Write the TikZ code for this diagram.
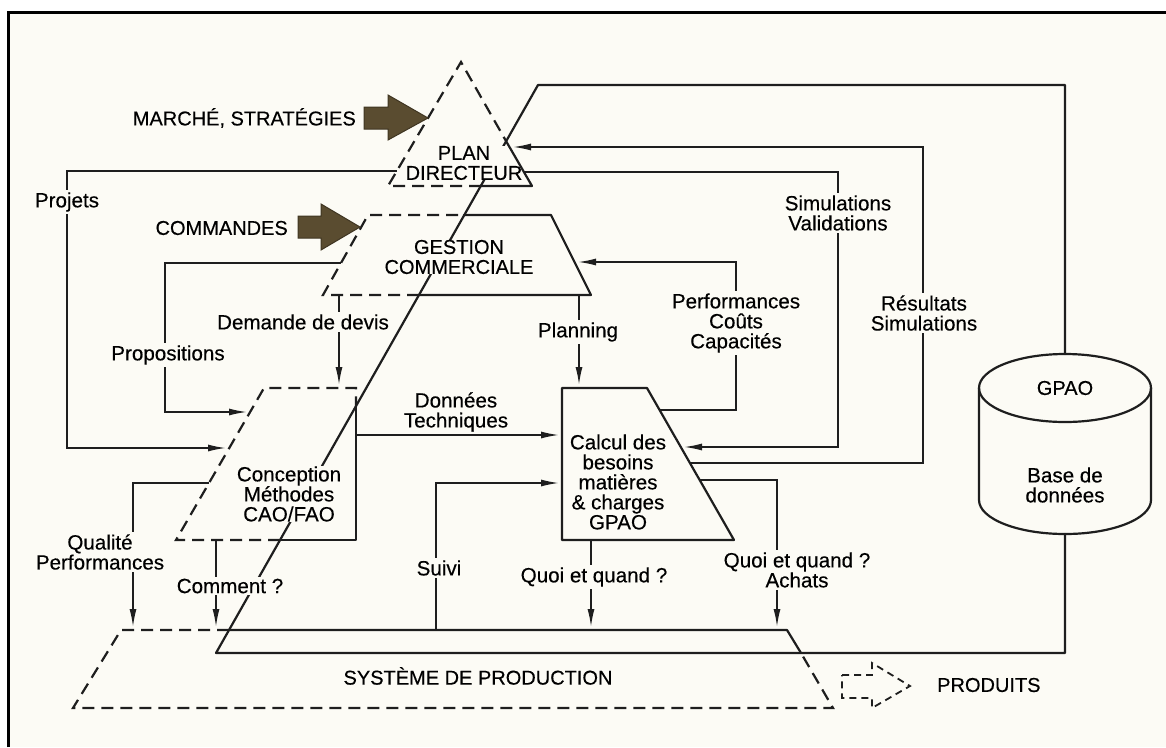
\documentclass[tikz,border=0pt]{standalone}
\usepackage{fontspec}
\setmainfont{Liberation Sans}[FakeBold=0.35]
\usetikzlibrary{arrows.meta}
\definecolor{bg}{RGB}{252,251,245}
\definecolor{ink}{RGB}{30,30,30}
\definecolor{olive}{RGB}{90,76,48}
\begin{document}
\begin{tikzpicture}[x=1pt,y=-1pt,
  shp/.style={draw=ink,line width=2.2pt,line join=round,line cap=round},
  hid/.style={draw=ink,line width=2.2pt,dash pattern=on 12pt off 7pt},
  con/.style={draw=ink,line width=1.6pt},
  arr/.style={con,-{Latex[length=18pt,width=7pt]},shorten >=3pt},
  fnt/.style={font=\fontsize{20}{20}\selectfont},
  lfnt/.style={font=\fontsize{20.6}{20}\selectfont},
  boxtxt/.style={lfnt,align=center,inner sep=0pt,fill=bg},
  lab/.style={lfnt,align=center,inner sep=2pt,fill=bg},
  free/.style={fnt,align=center,inner sep=0pt},
  fat/.style={fill=olive,draw=olive!70!black,line width=1pt,line join=miter}
]
\useasboundingbox (0,0) rectangle (1166,747);
\fill[white] (0,0) rectangle (1166,747);
\fill[bg] (8,12) rectangle (1166,747);
\draw[black,line width=3pt] (8,747) -- (8,12) -- (1166,12);

% ---------- key points ----------
% Plan directeur (triangle)
\coordinate (pdA) at (461,62);
\coordinate (pdL) at (388,186);
\coordinate (pdR) at (532,186);
\coordinate (pdX1) at (506,141);
\coordinate (pdX2) at (481,186);
% Gestion commerciale
\coordinate (gcTL) at (368,215);
\coordinate (gcTR) at (551,215);
\coordinate (gcBR) at (591,295);
\coordinate (gcBL) at (323,295);
\coordinate (gcX1) at (464,215);
\coordinate (gcX2) at (419,295);
% Conception
\coordinate (coTL) at (264,388);
\coordinate (coTR) at (356,388);
\coordinate (coBR) at (356,540);
\coordinate (coBL) at (176,540);
\coordinate (coX1) at (356,406);
\coordinate (coX2) at (280,540);
% Calcul
\coordinate (caTL) at (562,388);
\coordinate (caTR) at (647,388);
\coordinate (caBR) at (734,540);
\coordinate (caBL) at (562,540);
% Systeme de production
\coordinate (spTL) at (121,630);
\coordinate (spTR) at (787,630);
\coordinate (spBR) at (833,708);
\coordinate (spBL) at (73,708);
\coordinate (spX1) at (229,630);
\coordinate (spX2) at (801,653);
% GPAO band
\coordinate (bdT) at (538,85);
\coordinate (bdB) at (216,653);
\coordinate (dbTop) at (1065,354);
\coordinate (dbBot) at (1065,534);

% ---------- GPAO band and database ----------
\draw[shp] (dbTop) |- (bdT) -- (bdB) -| (dbBot);
\draw[shp] (1065,388) ellipse [x radius=86pt, y radius=34pt];
\draw[shp] (979,388) -- (979,500) arc[start angle=180, end angle=360, x radius=86pt, y radius=34pt] -- (1151,388);
\node[free] (dbTxt) at (1065,388) {GPAO};
\node[free,lfnt] (dbTxt2) at (1065,485) {Base de\\données};

% ---------- box texts ----------
\node[boxtxt,fnt] (pdTxt) at (464,163) {PLAN\\DIRECTEUR};
\node[boxtxt,fnt] (gcTxt) at (459,257) {GESTION\\COMMERCIALE};
\node[boxtxt] (coTxt) at (289,494) {Conception\\Méthodes\\CAO/FAO};
\node[boxtxt] (caTxt) at (618,482) {Calcul des\\besoins\\matières\\\& charges\\GPAO};
\node[free] (spTxt) at (478,676) {SYSTÈME DE PRODUCTION};

% ---------- shapes ----------
\draw[hid] (pdX2) -- (pdL) -- (pdA) -- (pdX1);
\draw[shp] (pdX1) -- (pdR) -- (pdX2);
\draw[hid] (gcX2) -- (gcBL) -- (gcTL) -- (gcX1);
\draw[shp] (gcX1) -- (gcTR) -- (gcBR) -- (gcX2);
\draw[hid] (coX2) -- (coBL) -- (coTL) -- (coTR) -- (coX1);
\draw[shp] (coX1) -- (coBR) -- (coX2);
\draw[shp] (caTL) -- (caTR) -- (caBR) -- (caBL) -- cycle;
\draw[hid] (spX1) -- (spTL) -- (spBL) -- (spBR) -- (spX2);
\draw[shp] (spX1) -- (spTR) -- (spX2);

% ---------- input / output arrows ----------
\coordinate (mkTip) at (428,118);
\coordinate (cmdTip) at (360,227);
\draw[fat] (364,107) -- (388,107) -- (388,95) -- (mkTip) -- (388,140) -- (388,129) -- (364,129) -- cycle;
\draw[fat] (298,216) -- (321,216) -- (321,204) -- (cmdTip) -- (321,250) -- (321,238) -- (298,238) -- cycle;
\node[free,anchor=east] (mkTxt) at (356,118) {MARCHÉ, STRATÉGIES};
\node[free,anchor=east] (cmdTxt) at (288,228) {COMMANDES};
\coordinate (prodTip) at (910,686);
\draw[draw=ink,line width=1.8pt,dash pattern=on 7pt off 5pt] (842,675) -- (872,675) -- (872,663) -- (prodTip) -- (872,708) -- (872,698) -- (842,698) -- cycle;
\node[free,anchor=west] (prodTxt) at (937,685) {PRODUITS};

% ---------- connectors ----------
\coordinate (pj1) at (397,171);  \coordinate (pjK) at (67,171);  \coordinate (pj2) at (229,448);
\draw[arr] (pj1) -- (pjK) |- (pj2);
\coordinate (pp1) at (341,263);  \coordinate (ppK) at (165,263); \coordinate (pp2) at (250,412);
\draw[arr] (pp1) -- (ppK) |- (pp2);
\coordinate (dd1) at (339,295);  \coordinate (dd2) at (339,388);
\draw[arr] (dd1) -- (dd2);
\coordinate (pl1) at (579,295);  \coordinate (pl2) at (579,388);
\draw[arr] (pl1) -- (pl2);
\coordinate (dt1) at (356,435);  \coordinate (dt2) at (562,435);
\draw[arr] (dt1) -- (dt2);
\coordinate (pf1) at (660,410);  \coordinate (pfK) at (736,410); \coordinate (pf2) at (575,262);
\draw[arr] (pf1) -- (pfK) |- (pf2);
\coordinate (sv1) at (524,172);  \coordinate (svK) at (838,172); \coordinate (sv2) at (681,447);
\draw[arr] (sv1) -- (svK) |- (sv2);
\coordinate (rs1) at (690,463);  \coordinate (rsK) at (923,463); \coordinate (rs2) at (510,147);
\draw[arr] (rs1) -- (rsK) |- (rs2);
\coordinate (qp1) at (209,483);  \coordinate (qp2) at (133,630);
\draw[arr] (qp1) -| (qp2);
\coordinate (cm1) at (216,540);  \coordinate (cm2) at (216,630);
\draw[arr] (cm1) -- (cm2);
\coordinate (su1) at (436,630);  \coordinate (su2) at (562,483);
\draw[arr] (su1) |- (su2);
\coordinate (qq1) at (591,540);  \coordinate (qq2) at (591,630);
\draw[arr] (qq1) -- (qq2);
\coordinate (ac1) at (700,480);  \coordinate (ac2) at (777,630);
\draw[arr] (ac1) -| (ac2);

% ---------- connector labels ----------
\node[lab] (pjTxt) at (67,202) {Projets};
\node[lab] (ppTxt) at (168,355) {Propositions};
\node[lab] (ddTxt) at (303,322) {Demande de devis};
\node[lab] (plTxt) at (578,332) {Planning};
\node[free,lfnt] (dtTxt) at (456,412) {Données\\Techniques};
\node[lab] (pfTxt) at (736,323) {Performances\\Coûts\\Capacités};
\node[lab] (svTxt) at (838,213) {Simulations\\Validations};
\node[lab] (rsTxt) at (924,313) {Résultats\\Simulations};
\node[lab] (qpTxt) at (100,552) {Qualité\\Performances};
\node[lab] (cmTxt) at (230,586) {Comment~?};
\node[lab] (suTxt) at (439,568) {Suivi};
\node[lab] (qqTxt) at (594,577) {Quoi et quand~?};
\node[lab] (acTxt) at (797,570) {Quoi et quand~?\\Achats};
\end{tikzpicture}
\end{document}
